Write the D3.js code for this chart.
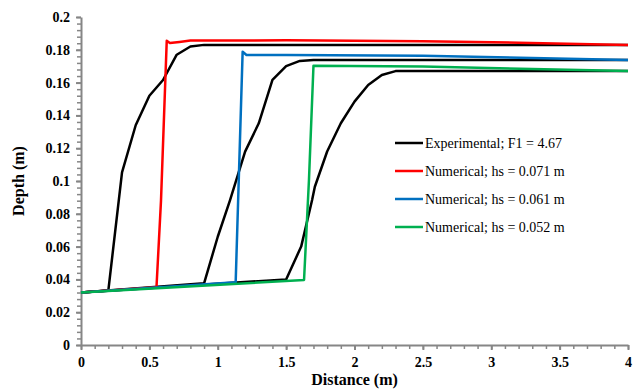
<!DOCTYPE html>
<html>
<head>
  <meta charset="utf-8">
  <title>Depth vs Distance</title>
  <style>
    body { margin: 0; background: #fff; }
    .axis path, .axis line { stroke: #868686; }
    .curve { fill: none; stroke-width: 2.5px; stroke-linejoin: round; }
  </style>
</head>
<body>
  <svg width="634" height="391"></svg>
  <script src="https://d3js.org/d3.v7.min.js"></script>
  <script>
    // Experimental profiles (three runs, one legend entry)
    const expA = [[0,0.032],[0.2,0.0333],[0.3,0.1053],[0.4,0.134],[0.5,0.152],[0.6,0.1616],[0.7,0.177],[0.8,0.182],[0.9,0.183],[4,0.183]];
    const expB = [[0,0.032],[0.9,0.0376],[1.0,0.066],[1.09,0.0884],[1.2,0.1179],[1.3,0.1352],[1.4,0.1616],[1.5,0.170],[1.6,0.1732],[1.7,0.1738],[4,0.1738]];
    const expC = [[0,0.032],[1.5,0.040],[1.61,0.060],[1.69,0.0884],[1.71,0.0965],[1.8,0.118],[1.9,0.1352],[2.0,0.1484],[2.1,0.1585],[2.2,0.1646],[2.3,0.167],[4,0.167]];

    // Numerical profiles
    const num071 = [[0,0.032],[0.552,0.0352],[0.585,0.088],[0.627,0.1855],[0.65,0.1842],[0.72,0.1848],[0.8,0.1856],[1.5,0.1858],[2.5,0.1852],[3.2,0.1843],[4,0.183]];
    const num061 = [[0,0.032],[1.131,0.0382],[1.182,0.1788],[1.21,0.1768],[1.5,0.1768],[2.5,0.1763],[4,0.1738]];
    const num052 = [[0,0.032],[1.631,0.0396],[1.667,0.1006],[1.7,0.1703],[2.5,0.1698],[4,0.167]];

    const legendLabels = ["Experimental; F1 = 4.67", "Numerical; hs = 0.071 m", "Numerical; hs = 0.061 m", "Numerical; hs = 0.052 m"];
    const colors = ["#000000", "#ff0000", "#0070c0", "#00b050"];

    const xTicks = [0, 0.5, 1, 1.5, 2, 2.5, 3, 3.5, 4];
    const yTicks = [0, 0.02, 0.04, 0.06, 0.08, 0.1, 0.12, 0.14, 0.16, 0.18, 0.2];

    const serif = "Liberation Serif, Times New Roman, serif";
    const svg = d3.select("svg");
    const margin = {left: 81, right: 6, top: 17, bottom: 46};
    const width = 634, height = 391;

    const x = d3.scaleLinear().domain([0, 4]).range([margin.left, width - margin.right]);
    const y = d3.scaleLinear().domain([0, 0.2]).range([height - margin.bottom, margin.top]);

    // minor ticks
    svg.append("g")
        .attr("class", "axis")
        .attr("transform", `translate(0,${y(0)})`)
        .call(d3.axisBottom(x).tickValues(d3.range(0, 4.001, 0.1)).tickSize(4).tickFormat(""))
        .call(g => g.select(".domain").remove())
        .selectAll("line").attr("stroke-width", 1.5);
    svg.append("g")
        .attr("class", "axis")
        .attr("transform", `translate(${x(0)},0)`)
        .call(d3.axisLeft(y).tickValues(d3.range(0, 0.2001, 0.004)).tickSize(4).tickFormat(""))
        .call(g => g.select(".domain").remove())
        .selectAll("line").attr("stroke-width", 1.5);

    // major axes
    function styleAxis(g) {
      g.attr("font-family", serif).attr("font-size", 14).attr("font-weight", "bold");
      g.select(".domain").attr("stroke-width", 2);
      g.selectAll(".tick line").attr("stroke-width", 2);
      g.selectAll(".tick text").attr("fill", "#000")
        .attr("font-family", serif).attr("font-weight", "bold").attr("font-size", 14);
    }
    svg.append("g")
        .attr("class", "axis")
        .attr("transform", `translate(0,${y(0)})`)
        .call(d3.axisBottom(x).tickValues(xTicks).tickSize(5).tickSizeOuter(0).tickPadding(7).tickFormat(d3.format("")))
        .call(styleAxis);
    svg.append("g")
        .attr("class", "axis")
        .attr("transform", `translate(${x(0)},0)`)
        .call(d3.axisLeft(y).tickValues(yTicks).tickSize(5).tickSizeOuter(0).tickPadding(6).tickFormat(d3.format("")))
        .call(styleAxis);

    const line = d3.line().x(d => x(d[0])).y(d => y(d[1]));

    const curves = [
      {data: expA, c: 0}, {data: expB, c: 0}, {data: expC, c: 0},
      {data: num071, c: 1}, {data: num061, c: 2}, {data: num052, c: 3}
    ];
    svg.append("g").selectAll("path")
        .data(curves)
        .enter().append("path")
        .attr("class", "curve")
        .attr("stroke", d => colors[d.c])
        .attr("d", d => line(d.data));

    // legend
    const legend = svg.append("g").attr("transform", "translate(395,143)");
    const item = legend.selectAll("g")
        .data(legendLabels)
        .enter().append("g")
        .attr("transform", (d, i) => `translate(0,${i * 28})`);
    item.append("line")
        .attr("x1", 0).attr("x2", 28)
        .attr("stroke", (d, i) => colors[i])
        .attr("stroke-width", 2.5);
    item.append("text")
        .attr("x", 30).attr("y", 5)
        .attr("font-family", serif)
        .attr("font-size", 14)
        .text(d => d);

    // axis titles
    svg.append("text")
        .attr("x", (x(0) + x(4)) / 2).attr("y", 385)
        .attr("text-anchor", "middle")
        .attr("font-family", serif)
        .attr("font-weight", "bold").attr("font-size", 16)
        .text("Distance (m)");
    svg.append("text")
        .attr("transform", `translate(24,${(y(0) + y(0.2)) / 2}) rotate(-90)`)
        .attr("text-anchor", "middle")
        .attr("font-family", serif)
        .attr("font-weight", "bold").attr("font-size", 16)
        .text("Depth (m)");
  </script>
</body>
</html>
